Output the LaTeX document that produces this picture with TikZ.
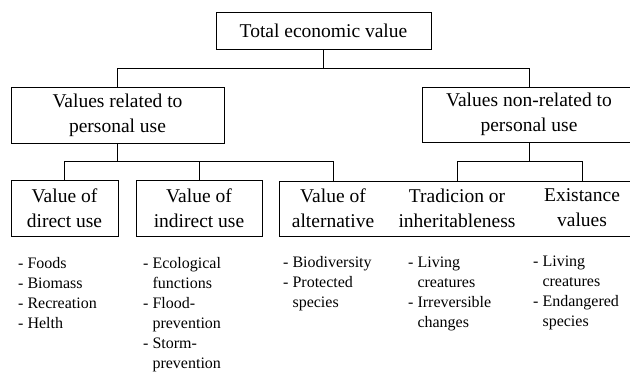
\documentclass[tikz,border=0pt]{standalone}
\usepackage{fontspec}
\setmainfont{Liberation Serif}
\begin{document}
\begin{tikzpicture}[x=1pt,y=-1pt,
  box/.style={draw=black,line width=0.8pt,inner sep=0pt,align=center,
    font=\fontsize{19.5}{25}\selectfont},
  boxtext/.style={inner sep=0pt,align=center,font=\fontsize{19.5}{25}\selectfont},
  conn/.style={draw=black,line width=0.8pt},
  blist/.style={inner sep=0pt,anchor=base west,font=\fontsize{16}{20}\selectfont}
]
\clip (0,0) rectangle (630,372);
\fill[white] (0,0) rectangle (630,372);

% nodes
\node[box,minimum width=215pt,minimum height=37pt] (tev) at (323.5,30.5) {Total economic value};
\node[box,minimum width=213pt,minimum height=56pt] (rel) at (117.5,115) {Values related to\\personal use};
\node[box,minimum width=214pt,minimum height=55pt] (nrel) at (529,114.5) {Values non-related to\\personal use};
\node[box,minimum width=107pt,minimum height=56pt] (dir) at (64.5,208) {Value of\\direct use};
\node[box,minimum width=126pt,minimum height=56pt] (ind) at (199,208) {Value of\\indirect use};
\node[box,minimum width=361pt,minimum height=55pt] (big) at (459.5,208.5) {};
\node[boxtext] (alt) at (333,208) {Value of\\alternative};
\node[boxtext] (trad) at (457,208) {Tradicion or\\inheritableness};
\node[boxtext] (ex) at (582,208) {Existance\\values};

% connectors
\coordinate (j1) at (323.5,68);
\coordinate (j2) at (117.5,161);
\coordinate (j3) at (529,161);
\draw[conn] (tev.south) -- (j1);
\draw[conn] (j1 -| rel.north) -- (j1 -| nrel.north);
\draw[conn] (j1 -| rel.north) -- (rel.north);
\draw[conn] (j1 -| nrel.north) -- (nrel.north);
\draw[conn] (rel.south) -- (j2);
\draw[conn] (j2 -| dir.north) -- (j2 -| alt.north);
\draw[conn] (j2 -| dir.north) -- (dir.north);
\draw[conn] (j2 -| ind.north) -- (ind.north);
\draw[conn] (j2 -| alt.north) -- (big.north -| alt.north);
\draw[conn] (nrel.south) -- (j3);
\draw[conn] (j3 -| trad.north) -- (j3 -| ex.north);
\draw[conn] (j3 -| trad.north) -- (big.north -| trad.north);
\draw[conn] (j3 -| ex.north) -- (big.north -| ex.north);

% lists
\node[blist] (l1) at (18,268) {\begin{tabular}[t]{@{}l@{ }l@{}}-&Foods\\-&Biomass\\-&Recreation\\-&Helth\end{tabular}};
\node[blist] (l2) at (143,268) {\begin{tabular}[t]{@{}l@{ }l@{}}-&Ecological\\&functions\\-&Flood-\\&prevention\\-&Storm-\\&prevention\end{tabular}};
\node[blist] (l3) at (283,267) {\begin{tabular}[t]{@{}l@{ }l@{}}-&Biodiversity\\-&Protected\\&species\end{tabular}};
\node[blist] (l4) at (408,267) {\begin{tabular}[t]{@{}l@{ }l@{}}-&Living\\&creatures\\-&Irreversible\\&changes\end{tabular}};
\node[blist] (l5) at (533,266) {\begin{tabular}[t]{@{}l@{ }l@{}}-&Living\\&creatures\\-&Endangered\\&species\end{tabular}};
\end{tikzpicture}
\end{document}
